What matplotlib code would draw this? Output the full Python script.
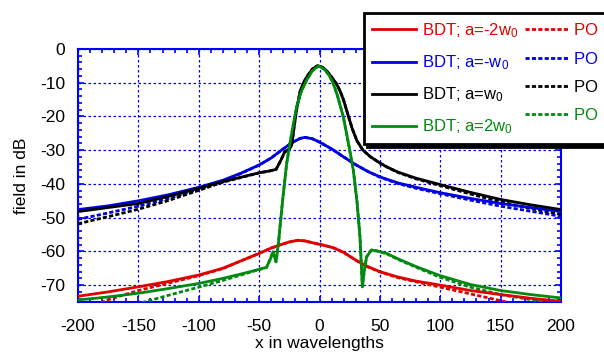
import matplotlib
matplotlib.use('Agg')
import matplotlib.pyplot as plt
from matplotlib.ticker import MultipleLocator

plt.rcParams['font.family'] = ['Liberation Sans', 'DejaVu Sans']
plt.rcParams['mathtext.fontset'] = 'custom'
plt.rcParams['mathtext.rm'] = 'Liberation Sans'
plt.rcParams['mathtext.it'] = 'Liberation Sans'
plt.rcParams['axes.unicode_minus'] = False

# --- data (x in wavelengths, field in dB) ---
# a = -2 w0 (red)
red_x = [-200, -175, -150, -125, -100, -80, -65, -50, -40, -32, -25, -18, -12, -5, 5, 12, 20, 27, 33.5, 40, 50, 65, 80, 100, 108, 125, 150, 175, 200]
red_y = [-73.3, -72.0, -70.5, -68.9, -67.0, -65.0, -62.8, -60.6, -59.0, -58.0, -57.2, -56.7, -56.9, -57.5, -58.3, -59.0, -60.3, -61.9, -63.3, -64.5, -66.0, -67.6, -68.8, -70.0, -70.5, -71.6, -72.8, -73.9, -74.8]
red_po_x = [-181, -175, -150, -125, -100, -80, -65, -50, -40, -32, -25, -18, -12, -5, 5, 12, 20, 27, 33.5, 40, 50, 65, 80, 100, 125, 150, 158]
red_po_y = [-75.2, -74.3, -71.6, -69.4, -67.2, -65.1, -62.8, -60.6, -59.0, -58.0, -57.2, -56.7, -56.9, -57.5, -58.3, -59.0, -60.3, -61.9, -63.4, -64.6, -66.1, -67.8, -69.0, -70.6, -72.6, -74.6, -75.3]

# a = -w0 (blue)
blue_x = [-200, -175, -150, -125, -100, -80, -65, -50, -40, -30, -22, -16, -12, -6, 0, 10, 20, 30, 40, 50, 65, 80, 100, 125, 150, 175, 200]
blue_y = [-47.6, -46.5, -45.0, -43.2, -41.0, -38.9, -36.8, -34.4, -32.3, -29.6, -27.6, -26.5, -26.2, -26.6, -27.6, -29.6, -32.0, -34.3, -36.3, -37.9, -39.7, -41.0, -42.6, -44.3, -45.8, -47.0, -48.2]
blue_po_x = [-200, -175, -150, -125, -100, -80, -65, -50, -40, -30, -22, -16, -12, -6, 0, 10, 20, 30, 40, 50, 65, 80, 100, 125, 150, 175, 200]
blue_po_y = [-50.5, -48.6, -46.6, -44.3, -41.6, -39.2, -36.9, -34.4, -32.3, -29.6, -27.6, -26.5, -26.2, -26.6, -27.6, -29.6, -32.0, -34.3, -36.3, -38.0, -39.9, -41.3, -42.9, -44.8, -46.6, -48.1, -49.6]

# a = w0 (black)
black_x = [-200, -175, -150, -125, -100, -80, -65, -50, -42, -36, -32, -29, -25, -23, -21, -19, -16, -13, -10, -6, -2, 2, 6, 10, 14, 17, 20, 23, 27, 31, 36, 42, 50, 56, 65, 80, 100, 125, 150, 175, 200]
black_y = [-48.2, -47.0, -45.8, -43.7, -41.3, -39.3, -38.0, -36.7, -36.2, -35.7, -33.0, -30.6, -29.6, -28.5, -23.0, -18.0, -12.5, -9.8, -8.0, -6.0, -5.0, -5.3, -6.5, -8.3, -10.3, -12.4, -15.2, -18.8, -23.5, -27.2, -30.0, -31.9, -33.8, -35.0, -36.5, -38.3, -40.2, -42.5, -44.6, -46.2, -47.6]
black_po_x = [-200, -175, -150, -125, -100, -80, -65, -50, -42, -36, -32, -29, -25, -23, -21, -19, -16, -13, -10, -6, -2, 2, 6, 10, 14, 17, 20, 23, 27, 31, 36, 42, 50, 56, 65, 80, 100, 125, 150, 175, 200]
black_po_y = [-51.8, -49.7, -47.5, -44.9, -41.9, -39.5, -38.1, -36.7, -36.2, -35.7, -33.0, -30.6, -29.6, -28.5, -23.0, -18.0, -12.5, -9.8, -8.0, -6.0, -5.0, -5.3, -6.5, -8.3, -10.3, -12.4, -15.2, -18.8, -23.5, -27.2, -30.0, -31.9, -33.8, -35.0, -36.6, -38.5, -40.5, -43.0, -45.3, -47.3, -49.0]

# a = 2 w0 (green)
green_x = [-200, -175, -150, -125, -100, -80, -65, -55, -47, -44, -41, -38.5, -36, -34, -32.7, -30, -27.2, -24, -21, -18.9, -15, -10.6, -6, -1, 4, 8, 11.4, 15, 19.7, 24, 28, 31, 33.5, 35.5, 37, 39, 43, 48, 55.6, 65, 80, 100, 125, 150, 175, 200]
green_y = [-74.4, -73.5, -72.4, -71.0, -69.5, -68.0, -66.7, -65.8, -65.0, -64.8, -62.5, -60.1, -63.1, -57.6, -52.7, -43.0, -34.0, -27.0, -21.0, -17.1, -12.5, -9.2, -6.5, -5.0, -6.0, -7.8, -10.2, -14.0, -20.1, -28.0, -35.9, -45.0, -55.6, -70.5, -66.0, -61.6, -59.6, -59.9, -60.6, -62.2, -64.5, -67.2, -69.8, -71.6, -72.8, -73.8]
green_po_x = [-147, -125, -100, -80, -65, -55, -47, -44, -41, -38.5, -36, -34, -32.7, -30, -27.2, -24, -21, -18.9, -15, -10.6, -6, -1, 4, 8, 11.4, 15, 19.7, 24, 28, 31, 33.5, 35.5, 37, 39, 43, 48, 55.6, 65, 80, 100, 125, 150, 175, 188]
green_po_y = [-75.2, -73.0, -70.6, -68.6, -67.0, -65.9, -65.1, -64.8, -62.5, -60.1, -63.1, -57.6, -52.7, -43.0, -34.0, -27.0, -21.0, -17.1, -12.5, -9.2, -6.5, -5.0, -6.0, -7.8, -10.2, -14.0, -20.1, -28.0, -35.9, -45.0, -55.6, -70.5, -66.0, -61.6, -59.6, -59.9, -60.7, -62.4, -64.7, -67.7, -70.6, -72.8, -74.3, -75.2]

labels = ['BDT; a=-2w$_0$', 'BDT; a=-w$_0$', 'BDT; a=w$_0$', 'BDT; a=2w$_0$']
po_labels = ['PO  '] * 4
colors = ['#e00000', '#0000e0', 'black', '#008a10']

series = [(red_x, red_y, red_po_x, red_po_y),
          (blue_x, blue_y, blue_po_x, blue_po_y),
          (black_x, black_y, black_po_x, black_po_y),
          (green_x, green_y, green_po_x, green_po_y)]

fig = plt.figure(figsize=(6.04, 3.52), dpi=100)
ax = fig.add_axes([78/604, 1-302/352, 483/604, 253/352])

solid_h, dot_h = [], []
for i, ((x, y, xp, yp), c) in enumerate(zip(series, colors)):
    d, = ax.plot(xp, yp, color=c, lw=2, ls=(0, (1.5, 0.8)), zorder=3 + i)
    s, = ax.plot(x, y, color=c, lw=2, zorder=10 + i)
    solid_h.append(s)
    dot_h.append(d)

ax.set_xlim(-200, 200)
ax.set_ylim(-75, 0)
ax.xaxis.set_major_locator(MultipleLocator(50))
ax.xaxis.set_minor_locator(MultipleLocator(10))
ax.yaxis.set_major_locator(MultipleLocator(10))
ax.yaxis.set_minor_locator(MultipleLocator(2))
ax.tick_params(which='both', direction='in', top=True, right=True, color='#0000ff', labelsize=12.5)
ax.tick_params(which='major', length=4, width=1.2)
ax.tick_params(which='minor', length=3, width=1.2)
ax.tick_params(axis='x', pad=12)
ax.tick_params(axis='y', pad=9)
for sp in ax.spines.values():
    sp.set_color('#0000ff')
    sp.set_linewidth(1.5)
ax.grid(which='major', color='#0000ff', ls=(0, (2, 2)), lw=0.9)
ax.set_axisbelow(True)

ax.set_xlabel('x in wavelengths', fontsize=12.5, labelpad=2)
ax.set_ylabel('field in dB', fontsize=12.5, labelpad=8)

leg = ax.legend(solid_h + dot_h, labels + po_labels, ncol=2, loc='upper left',
                bbox_to_anchor=(364/604, 1-13/352), bbox_transform=fig.transFigure,
                borderaxespad=0, fontsize=12, handlelength=2.6, handletextpad=0.35,
                columnspacing=0.4, labelspacing=0.8, borderpad=0.5, fancybox=False,
                framealpha=1, shadow={'color': 'black', 'alpha': 1})
leg.get_frame().set_edgecolor('black')
leg.get_frame().set_linewidth(2)
leg.set_zorder(30)
for t, c in zip(leg.get_texts(), colors + colors):
    t.set_color(c)

fig.savefig('out.png', dpi=100)
